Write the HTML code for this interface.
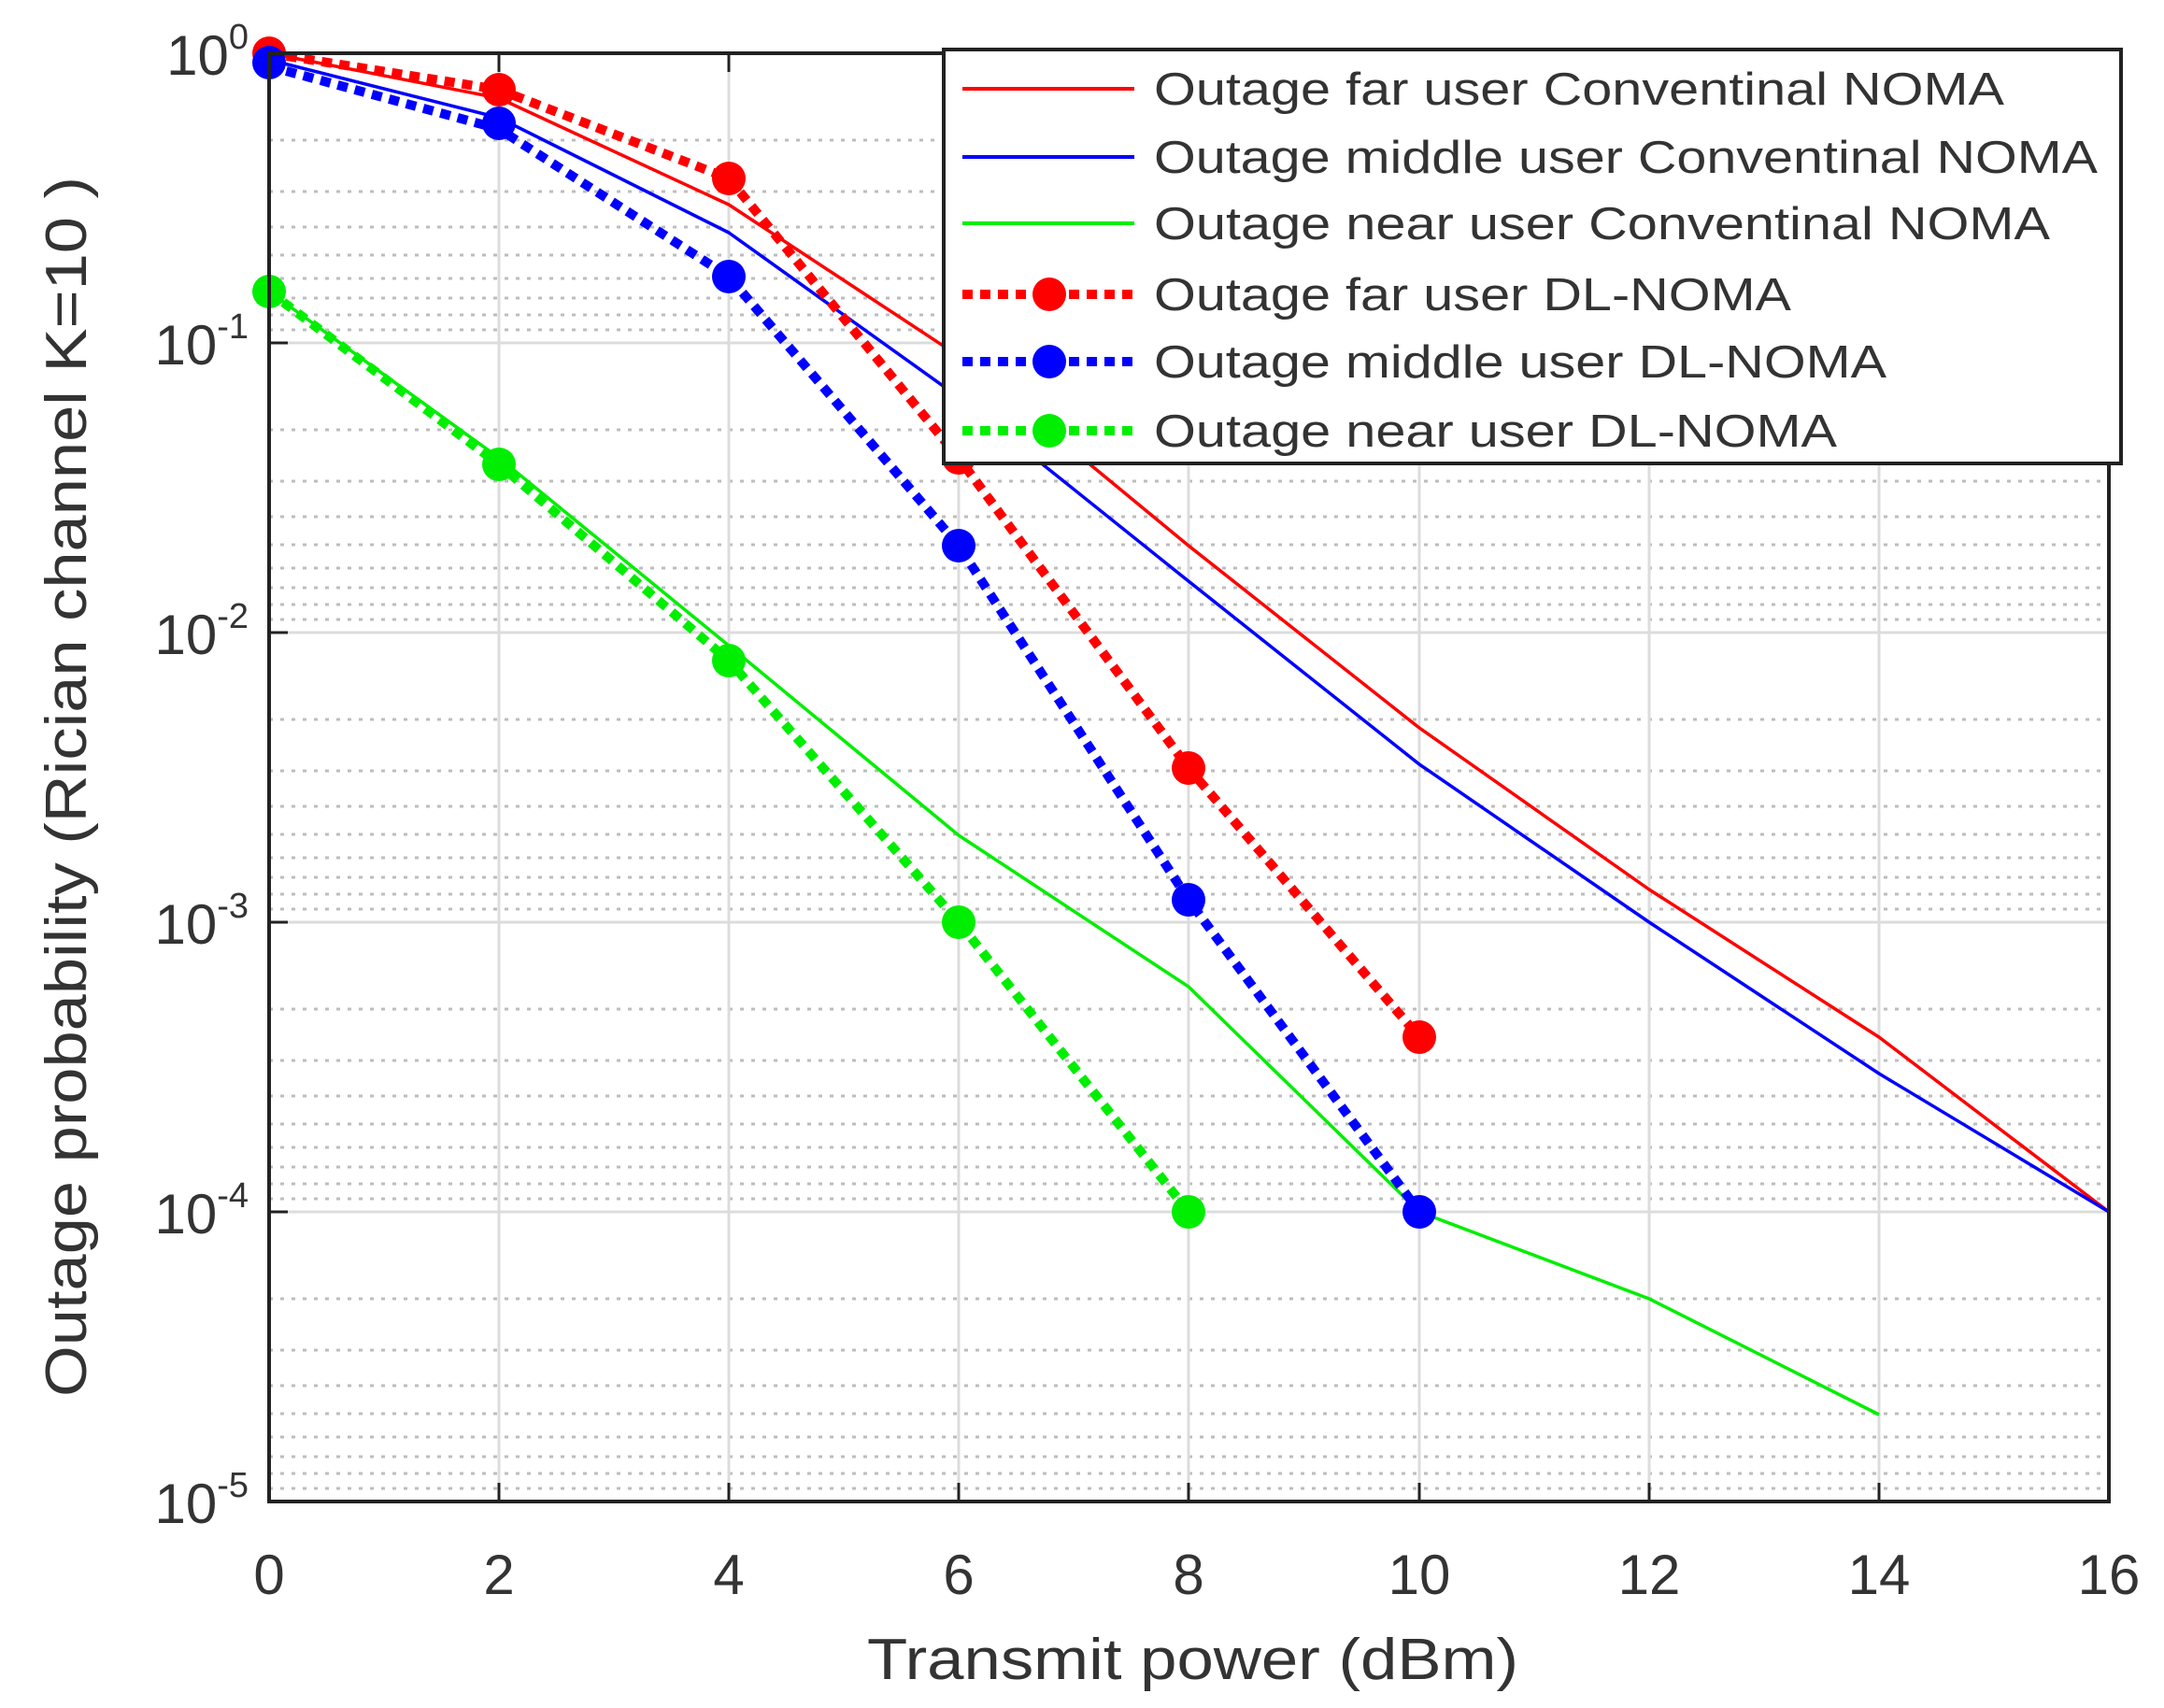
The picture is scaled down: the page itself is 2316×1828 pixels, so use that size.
<!DOCTYPE html>
<html><head><meta charset="utf-8"><style>
html,body{margin:0;padding:0;background:#fff;}
svg{display:block;font-family:"Liberation Sans",sans-serif;}
</style></head><body>
<svg width="2316" height="1828" viewBox="0 0 2316 1828" xmlns="http://www.w3.org/2000/svg">
<rect width="2316" height="1828" fill="#fff"/>
<g stroke="#bdbdbd" stroke-width="3" stroke-dasharray="4 8">
<path d="M288 150H2257M288 205H2257M288 243H2257M288 273H2257M288 298H2257M288 319H2257M288 337H2257M288 353H2257"/>
<path d="M288 460H2257M288 515H2257M288 553H2257M288 583H2257M288 608H2257M288 629H2257M288 647H2257M288 663H2257"/>
<path d="M288 770H2257M288 825H2257M288 863H2257M288 893H2257M288 918H2257M288 939H2257M288 957H2257M288 973H2257"/>
<path d="M288 1080H2257M288 1135H2257M288 1173H2257M288 1203H2257M288 1228H2257M288 1249H2257M288 1267H2257M288 1283H2257"/>
<path d="M288 1390H2257M288 1445H2257M288 1483H2257M288 1513H2257M288 1538H2257M288 1559H2257M288 1577H2257M288 1593H2257"/>
</g>
<g stroke="#dcdcdc" stroke-width="3">
<path d="M288 367H2257M288 677H2257M288 987H2257M288 1297H2257"/>
<path d="M534 57V1607M780 57V1607M1026 57V1607M1272 57V1607M1519 57V1607M1765 57V1607M2011 57V1607"/>
</g>
<g stroke="#222" stroke-width="3">
<path d="M534 1607v-20M780 1607v-20M1026 1607v-20M1272 1607v-20M1519 1607v-20M1765 1607v-20M2011 1607v-20"/>
<path d="M534 57v20M780 57v20M1026 57v20M1272 57v20M1519 57v20M1765 57v20M2011 57v20"/>
<path d="M288 367h20M288 677h20M288 987h20M288 1297h20"/>
</g>
<g fill="none" stroke-width="3.5" stroke-linejoin="round">
<polyline stroke="#ff0000" points="288,57 534,105 780,219 1026,381 1272,584 1519,779 1765,952 2011,1110 2257,1297"/>
<polyline stroke="#0000ff" points="288,64 534,126 780,249 1026,425 1272,622 1519,818 1765,987 2011,1149 2257,1297"/>
<polyline stroke="#00ee00" points="288,312 534,490 780,691 1026,894 1272,1056 1519,1297 1765,1390 2011,1514"/>
</g>
<g fill="none" stroke-width="10" stroke-dasharray="11 8">
<polyline stroke="#ff0000" points="288,57 534,96 780,191 1026,490 1272,822 1519,1110"/>
<polyline stroke="#0000ff" points="288,71 534,138 780,296 1026,584 1272,963 1519,1297"/>
<polyline stroke="#00ee00" points="288,312 534,497 780,707 1026,987 1272,1297"/>
</g>
<g fill="#ff0000"><circle cx="288" cy="57" r="18"/><circle cx="534" cy="96" r="18"/><circle cx="780" cy="191" r="18"/><circle cx="1026" cy="490" r="18"/><circle cx="1272" cy="822" r="18"/><circle cx="1519" cy="1110" r="18"/></g>
<g fill="#00ee00"><circle cx="288" cy="312" r="18"/><circle cx="534" cy="497" r="18"/><circle cx="780" cy="707" r="18"/><circle cx="1026" cy="987" r="18"/><circle cx="1272" cy="1297" r="18"/></g>
<g fill="#0000ff"><circle cx="288" cy="67" r="18"/><circle cx="534" cy="132" r="18"/><circle cx="780" cy="296" r="18"/><circle cx="1026" cy="584" r="18"/><circle cx="1272" cy="963" r="18"/><circle cx="1519" cy="1297" r="18"/></g>
<rect x="288" y="57" width="1969" height="1550" fill="none" stroke="#222" stroke-width="4"/>
<rect x="1010" y="53" width="1260" height="443" fill="#fff" stroke="#222" stroke-width="4"/>
<g stroke-width="4">
<line x1="1030" y1="95" x2="1214" y2="95" stroke="#ff0000"/>
<line x1="1030" y1="168" x2="1214" y2="168" stroke="#0000ff"/>
<line x1="1030" y1="239" x2="1214" y2="239" stroke="#00ee00"/>
</g>
<g stroke-width="10" stroke-dasharray="11 8">
<line x1="1030" y1="315" x2="1214" y2="315" stroke="#ff0000"/>
<line x1="1030" y1="387" x2="1214" y2="387" stroke="#0000ff"/>
<line x1="1030" y1="461" x2="1214" y2="461" stroke="#00ee00"/>
</g>
<circle cx="1123" cy="315" r="18" fill="#ff0000"/>
<circle cx="1123" cy="387" r="18" fill="#0000ff"/>
<circle cx="1123" cy="461" r="18" fill="#00ee00"/>
<g font-size="49" fill="#333" lengthAdjust="spacingAndGlyphs">
<text x="1235" y="112" textLength="910" lengthAdjust="spacingAndGlyphs">Outage far user Conventinal NOMA</text>
<text x="1235" y="185" textLength="1010" lengthAdjust="spacingAndGlyphs">Outage middle user Conventinal NOMA</text>
<text x="1235" y="256" textLength="959" lengthAdjust="spacingAndGlyphs">Outage near user Conventinal NOMA</text>
<text x="1235" y="332" textLength="682" lengthAdjust="spacingAndGlyphs">Outage far user DL-NOMA</text>
<text x="1235" y="404" textLength="784" lengthAdjust="spacingAndGlyphs">Outage middle user DL-NOMA</text>
<text x="1235" y="478" textLength="731" lengthAdjust="spacingAndGlyphs">Outage near user DL-NOMA</text>
</g>
<g font-size="60" fill="#333" text-anchor="middle">
<text x="288" y="1706">0</text><text x="534" y="1706">2</text><text x="780" y="1706">4</text><text x="1026" y="1706">6</text><text x="1272" y="1706">8</text><text x="1519" y="1706">10</text><text x="1765" y="1706">12</text><text x="2011" y="1706">14</text><text x="2257" y="1706">16</text>
</g>
<g font-size="60" fill="#333" text-anchor="end">
<text x="266" y="80">10<tspan dy="-28" font-size="38">0</tspan></text>
<text x="266" y="390">10<tspan dy="-28" font-size="38">-1</tspan></text>
<text x="266" y="700">10<tspan dy="-28" font-size="38">-2</tspan></text>
<text x="266" y="1010">10<tspan dy="-28" font-size="38">-3</tspan></text>
<text x="266" y="1320">10<tspan dy="-28" font-size="38">-4</tspan></text>
<text x="266" y="1630">10<tspan dy="-28" font-size="38">-5</tspan></text>
</g>
<text x="928" y="1797" font-size="62" fill="#333" textLength="697" lengthAdjust="spacingAndGlyphs">Transmit power (dBm)</text>
<text transform="translate(92,842) rotate(-90)" x="-653" y="0" font-size="62" fill="#333" textLength="1306" lengthAdjust="spacingAndGlyphs">Outage probability (Rician channel K=10 )</text>
</svg>
</body></html>
